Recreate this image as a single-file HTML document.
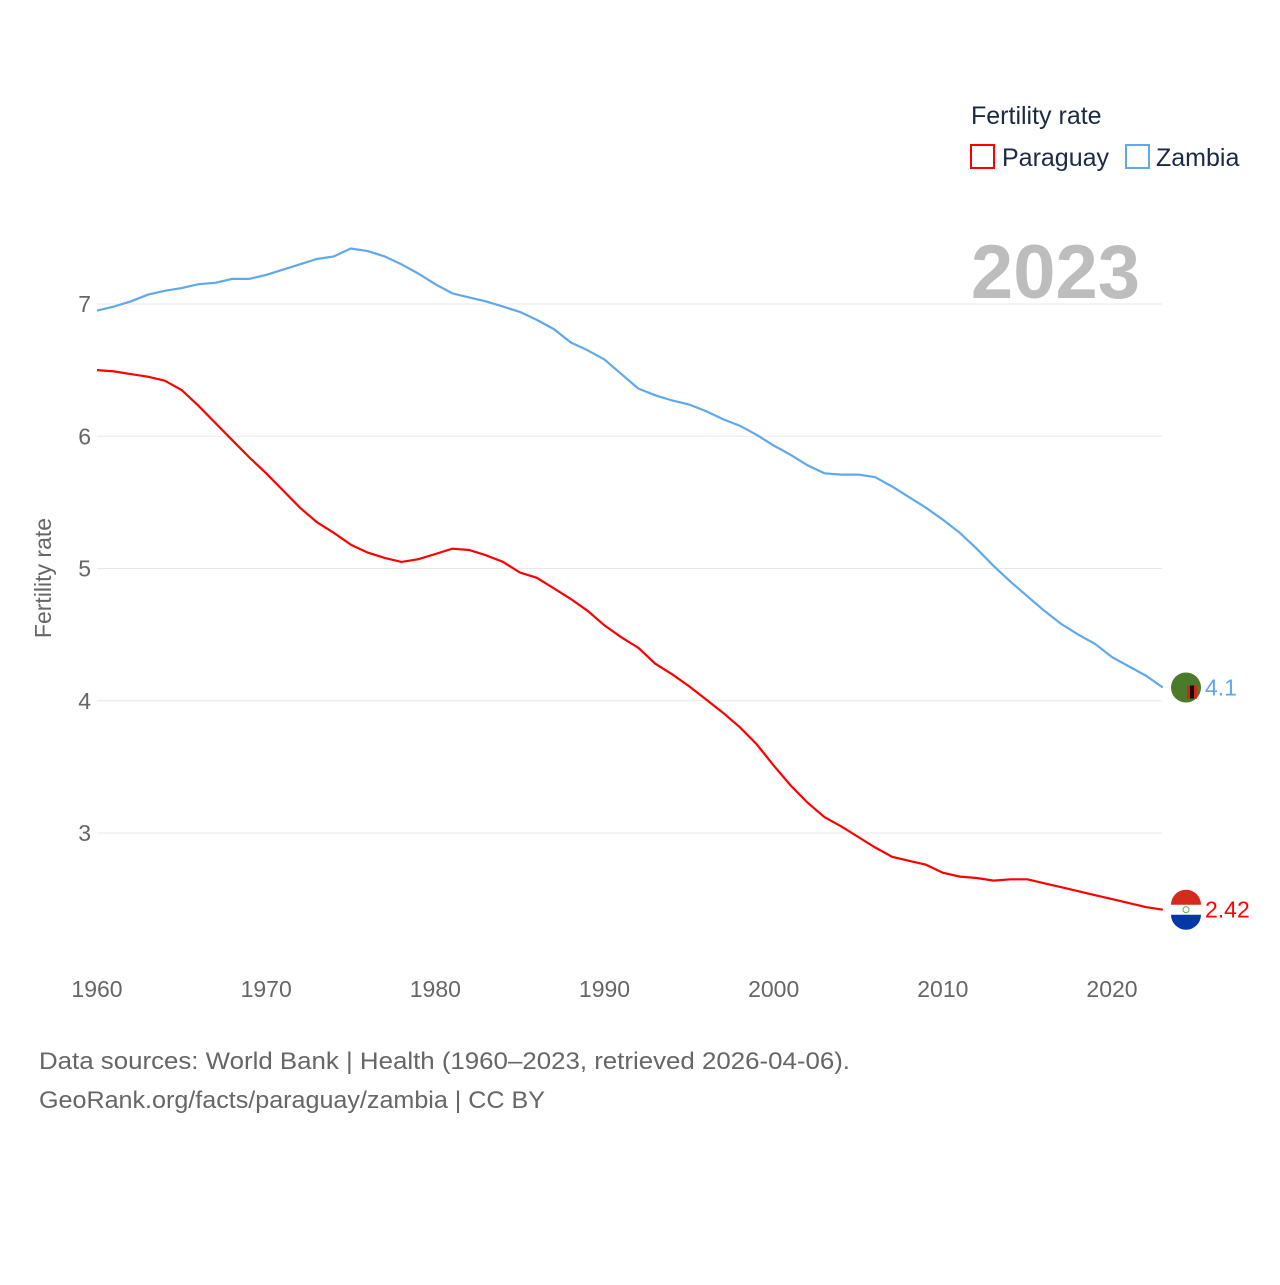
<!DOCTYPE html>
<html><head><meta charset="utf-8"><style>
body{margin:0;background:#fff;font-family:"Liberation Sans",sans-serif;}
</style></head><body>
<svg id="chart" width="1280" height="1280" xmlns="http://www.w3.org/2000/svg" font-family="Liberation Sans, sans-serif">
<rect width="1280" height="1280" fill="#fff"/>
<g id="grid"></g><g id="lines"></g>
<text x="1140" y="298" font-size="76" font-weight="bold" fill="#bdbdbd" text-anchor="end">2023</text>
<text x="971" y="124" font-size="25" fill="#1a2a44">Fertility rate</text>
<rect x="971" y="145" width="23" height="23" fill="none" stroke="#f00" stroke-width="2"/>
<text x="1002" y="166" font-size="25" fill="#1a2a44">Paraguay</text>
<rect x="1126" y="145" width="23" height="23" fill="none" stroke="#5fa8ee" stroke-width="2"/>
<text x="1156" y="166" font-size="25" fill="#1a2a44">Zambia</text>
<text transform="translate(51,578) rotate(-90)" font-size="23" fill="#666" text-anchor="middle">Fertility rate</text>
<text x="39" y="1069" font-size="24" fill="#666" textLength="811" lengthAdjust="spacingAndGlyphs">Data sources: World Bank | Health (1960–2023, retrieved 2026-04-06).</text>
<text x="39" y="1108" font-size="24" fill="#666" textLength="506" lengthAdjust="spacingAndGlyphs">GeoRank.org/facts/paraguay/zambia | CC BY</text>
</svg>
<script>
const years=[];for(let y=1960;y<=2023;y++)years.push(y);
const zambia=[6.95,6.98,7.02,7.07,7.10,7.12,7.15,7.16,7.19,7.19,7.22,7.26,7.30,7.34,7.36,7.42,7.40,7.36,7.30,7.23,7.15,7.08,7.05,7.02,6.98,6.94,6.88,6.81,6.71,6.65,6.58,6.47,6.36,6.31,6.27,6.24,6.19,6.13,6.08,6.01,5.93,5.86,5.78,5.72,5.71,5.71,5.69,5.62,5.54,5.46,5.37,5.27,5.15,5.02,4.90,4.79,4.68,4.58,4.50,4.43,4.33,4.26,4.19,4.10];
const paraguay=[6.50,6.49,6.47,6.45,6.42,6.35,6.23,6.10,5.97,5.84,5.72,5.59,5.46,5.35,5.27,5.18,5.12,5.08,5.05,5.07,5.11,5.15,5.14,5.10,5.05,4.97,4.93,4.85,4.77,4.68,4.57,4.48,4.40,4.28,4.20,4.11,4.01,3.91,3.80,3.67,3.51,3.36,3.23,3.12,3.05,2.97,2.89,2.82,2.79,2.76,2.70,2.67,2.66,2.64,2.65,2.65,2.62,2.59,2.56,2.53,2.50,2.47,2.44,2.42];
const yTicks=[3,4,5,6,7];
const xTicks=[1960,1970,1980,1990,2000,2010,2020];
const NS="http://www.w3.org/2000/svg";
const xs=y=>97+(y-1960)*(1015/60);
const ys=v=>304-(v-7)*132.25;
const grid=document.getElementById('grid'),lines=document.getElementById('lines');
function mk(tag,attrs,parent){const e=document.createElementNS(NS,tag);for(const k in attrs)e.setAttribute(k,attrs[k]);parent.appendChild(e);return e;}
yTicks.forEach(t=>{
 const l=mk('line',{x1:97,x2:1162,y1:ys(t),y2:ys(t),stroke:'#e8e8e8','stroke-width':1},grid);
 
 
 const tx=mk('text',{x:91,y:ys(t)+8,'font-size':23,fill:'#666','text-anchor':'end'},grid);tx.textContent=t;
 
 
});
xTicks.forEach(t=>{
 const tx=mk('text',{x:xs(t),y:997,'font-size':23,fill:'#666','text-anchor':'middle'},grid);tx.textContent=t;
 
 
});
function series(vals,color,name,label,flag){
 const d=vals.map((v,i)=>(i?'L':'M')+xs(years[i]).toFixed(1)+','+ys(v).toFixed(1)).join(' ');
 const p=mk('path',{d:d,fill:'none',stroke:color,'stroke-width':2.2},lines);
 
 
 const last=vals[vals.length-1],cy=ys(last);
 const g=mk('g',{},lines);
 
 
 if(flag==='zm'){mk('circle',{cx:1186,cy:cy,r:15,fill:'#4a7a2a'},g);mk('rect',{x:1187,y:cy-2,width:10,height:13,fill:'#d21'},g);mk('rect',{x:1190,y:cy-2,width:4,height:13,fill:'#111'},g);}
 else{mk('circle',{cx:1186,cy:cy,r:15,fill:'#fff'},g);mk('path',{d:`M1171,${cy-5} A15,15 0 0 1 1201,${cy-5} Z`,fill:'#d52b1e'},g);mk('path',{d:`M1171,${cy+5} A15,15 0 0 0 1201,${cy+5} Z`,fill:'#0038a8'},g);mk('circle',{cx:1186,cy:cy,r:3,fill:'none',stroke:'#5a5',"stroke-width":1},g);}
 const t=mk('text',{x:1205,y:cy+8,'font-size':23,fill:color},lines);t.textContent=label;
 
 
}
series(zambia,'#5fa8ee','zambia','4.1','zm');
series(paraguay,'#f00','paraguay','2.42','py');
</script>
</body></html>
